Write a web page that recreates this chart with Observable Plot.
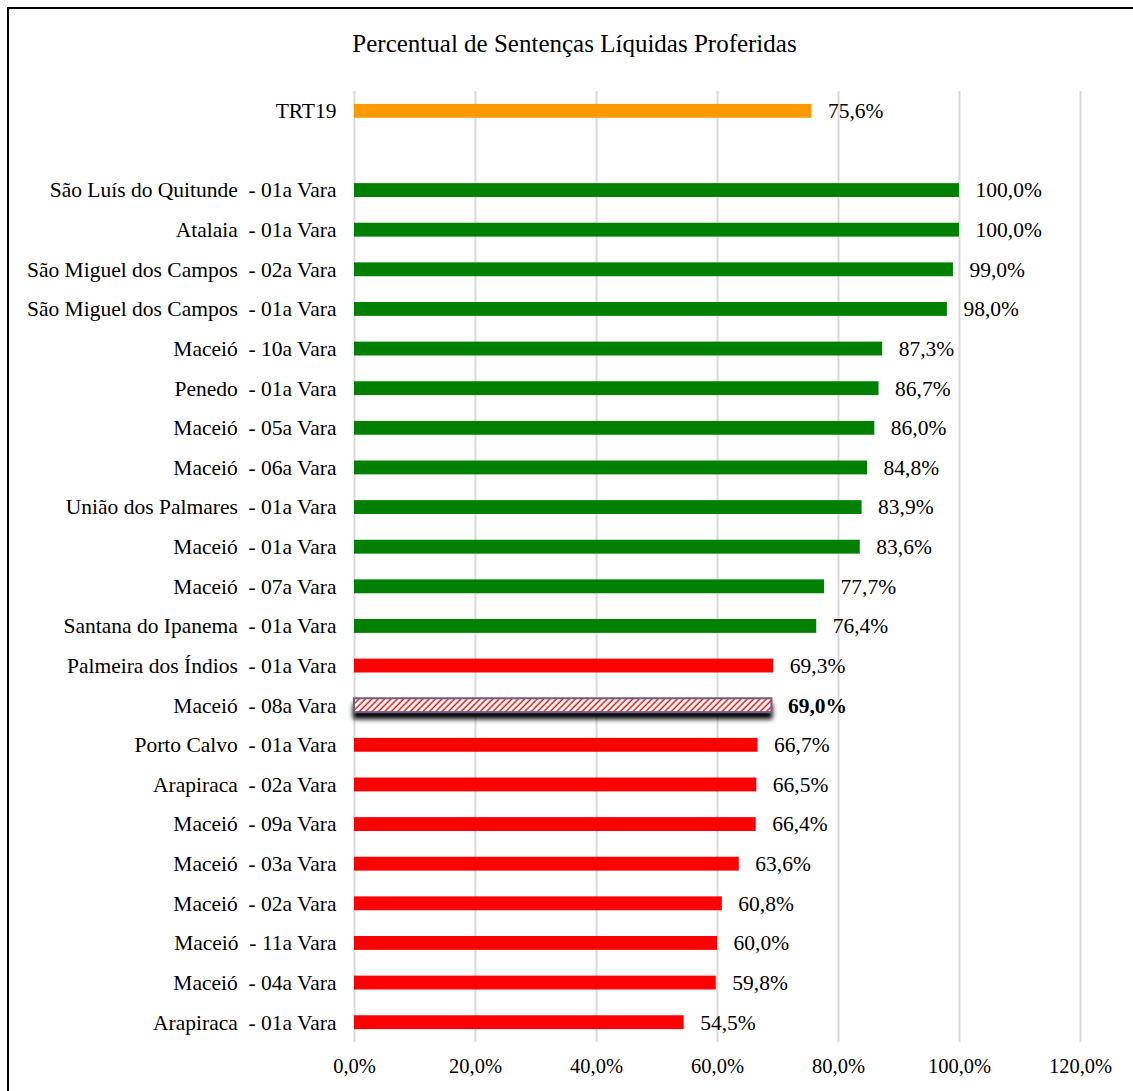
<!DOCTYPE html>
<html>
<head>
<meta charset="utf-8">
<script src="https://cdn.jsdelivr.net/npm/d3@7"></script>
<script src="https://cdn.jsdelivr.net/npm/@observablehq/plot@0.6"></script>
<style>
  body { margin: 0; background: #fff; }
  #wrap { position: relative; width: 1133px; height: 1091px; overflow: hidden; font-family: "Liberation Serif", "Times New Roman", serif; }
  #frame { position: absolute; left: 7px; top: 7px; width: 1300px; height: 1300px; border: 2px solid #000; box-sizing: border-box; }
  #title { position: absolute; top: 30px; left: 8px; width: 1133px; text-align: center; font-size: 25px; color: #000; }
  #chart { position: absolute; left: 0; top: 0; }
  #chart svg text { white-space: pre; }
</style>
</head>
<body>
<div id="wrap">
  <div id="frame"></div>
  <div id="chart"></div>
  <div id="title">Percentual de Sentenças Líquidas Proferidas</div>
</div>
<script>
const categories = [
  "TRT19",
  "São Luís do Quitunde  - 01a Vara",
  "Atalaia  - 01a Vara",
  "São Miguel dos Campos  - 02a Vara",
  "São Miguel dos Campos  - 01a Vara",
  "Maceió  - 10a Vara",
  "Penedo  - 01a Vara",
  "Maceió  - 05a Vara",
  "Maceió  - 06a Vara",
  "União dos Palmares  - 01a Vara",
  "Maceió  - 01a Vara",
  "Maceió  - 07a Vara",
  "Santana do Ipanema  - 01a Vara",
  "Palmeira dos Índios  - 01a Vara",
  "Maceió  - 08a Vara",
  "Porto Calvo  - 01a Vara",
  "Arapiraca  - 02a Vara",
  "Maceió  - 09a Vara",
  "Maceió  - 03a Vara",
  "Maceió  - 02a Vara",
  "Maceió  - 11a Vara",
  "Maceió  - 04a Vara",
  "Arapiraca  - 01a Vara"
];
const values = [75.6, 100.0, 100.0, 99.0, 98.0, 87.3, 86.7, 86.0, 84.8, 83.9, 83.6, 77.7, 76.4, 69.3, 69.0, 66.7, 66.5, 66.4, 63.6, 60.8, 60.0, 59.8, 54.5];
const groups = ["tribunal", "acima", "acima", "acima", "acima", "acima", "acima", "acima", "acima", "acima", "acima", "acima", "acima",
  "abaixo", "destaque", "abaixo", "abaixo", "abaixo", "abaixo", "abaixo", "abaixo", "abaixo", "abaixo"];
const xTicks = [0, 20, 40, 60, 80, 100, 120];
const groupColors = { tribunal: "#ff9900", acima: "#008000", abaixo: "#ff0000" };

const data = categories.map((c, i) => ({ cat: c, value: values[i], group: groups[i] }));
const domain = [categories[0], "", ...categories.slice(1)];
const fmt = v => v.toFixed(1).replace(".", ",") + "%";
const font = "Liberation Serif, Times New Roman, serif";

const plain = data.filter(d => d.group !== "destaque");
const highlight = data.filter(d => d.group === "destaque");

const chart = Plot.plot({
  width: 1133,
  height: 1091,
  marginTop: 91,
  marginBottom: 49,
  marginLeft: 354,
  marginRight: 53,
  style: { fontFamily: font, fontSize: "21px", color: "#000", background: "transparent" },
  x: { domain: [0, 120], label: null },
  y: { domain: domain, paddingInner: 0.65, paddingOuter: 0.325, round: false, label: null },
  marks: [
    Plot.gridX(xTicks, { stroke: "#d9d9d9", strokeOpacity: 1, strokeWidth: 2 }),
    Plot.axisX({ ticks: xTicks, tickSize: 0, tickPadding: 16, tickFormat: fmt, fontSize: 20.5, fill: "#000", label: null }),
    Plot.axisY({ tickSize: 0, tickPadding: 18, fontSize: 21.5, fill: "#000", tickFormat: d => d, label: null }),
    Plot.barX(plain, { x: "value", y: "cat", fill: d => groupColors[d.group] }),
    Plot.barX(highlight, { x: "value", y: "cat", fill: "url(#hatch)", stroke: "#6e5d82", strokeWidth: 2 }),
    Plot.text(plain, { x: "value", y: "cat", text: d => fmt(d.value), textAnchor: "start", dx: 16, fontSize: 21.5, fill: "#000" }),
    Plot.text(highlight, { x: "value", y: "cat", text: d => fmt(d.value), textAnchor: "start", dx: 16, fontSize: 21.5, fontWeight: "bold", fill: "#000" })
  ]
});

const svg = d3.select(chart);
const defs = svg.insert("defs", ":first-child");
const pat = defs.append("pattern").attr("id", "hatch").attr("patternUnits", "userSpaceOnUse")
  .attr("width", 4.5).attr("height", 4.5).attr("patternTransform", "rotate(45)");
pat.append("rect").attr("width", 4.5).attr("height", 4.5).attr("fill", "#fff");
pat.append("line").attr("x1", 1.2).attr("y1", 0).attr("x2", 1.2).attr("y2", 4.5).attr("stroke", "#e01010").attr("stroke-width", 1.5);
const filt = defs.append("filter").attr("id", "shadow")
  .attr("x", "-10%").attr("y", "-100%").attr("width", "120%").attr("height", "400%");
filt.append("feDropShadow").attr("dx", 0).attr("dy", 6).attr("stdDeviation", 2.8).attr("flood-color", "#000").attr("flood-opacity", 1);
svg.selectAll('[fill="url(#hatch)"]').filter(function () { return this.parentNode.tagName !== "pattern"; })
  .attr("filter", "url(#shadow)");

document.getElementById("chart").appendChild(chart);
</script>
</body>
</html>
